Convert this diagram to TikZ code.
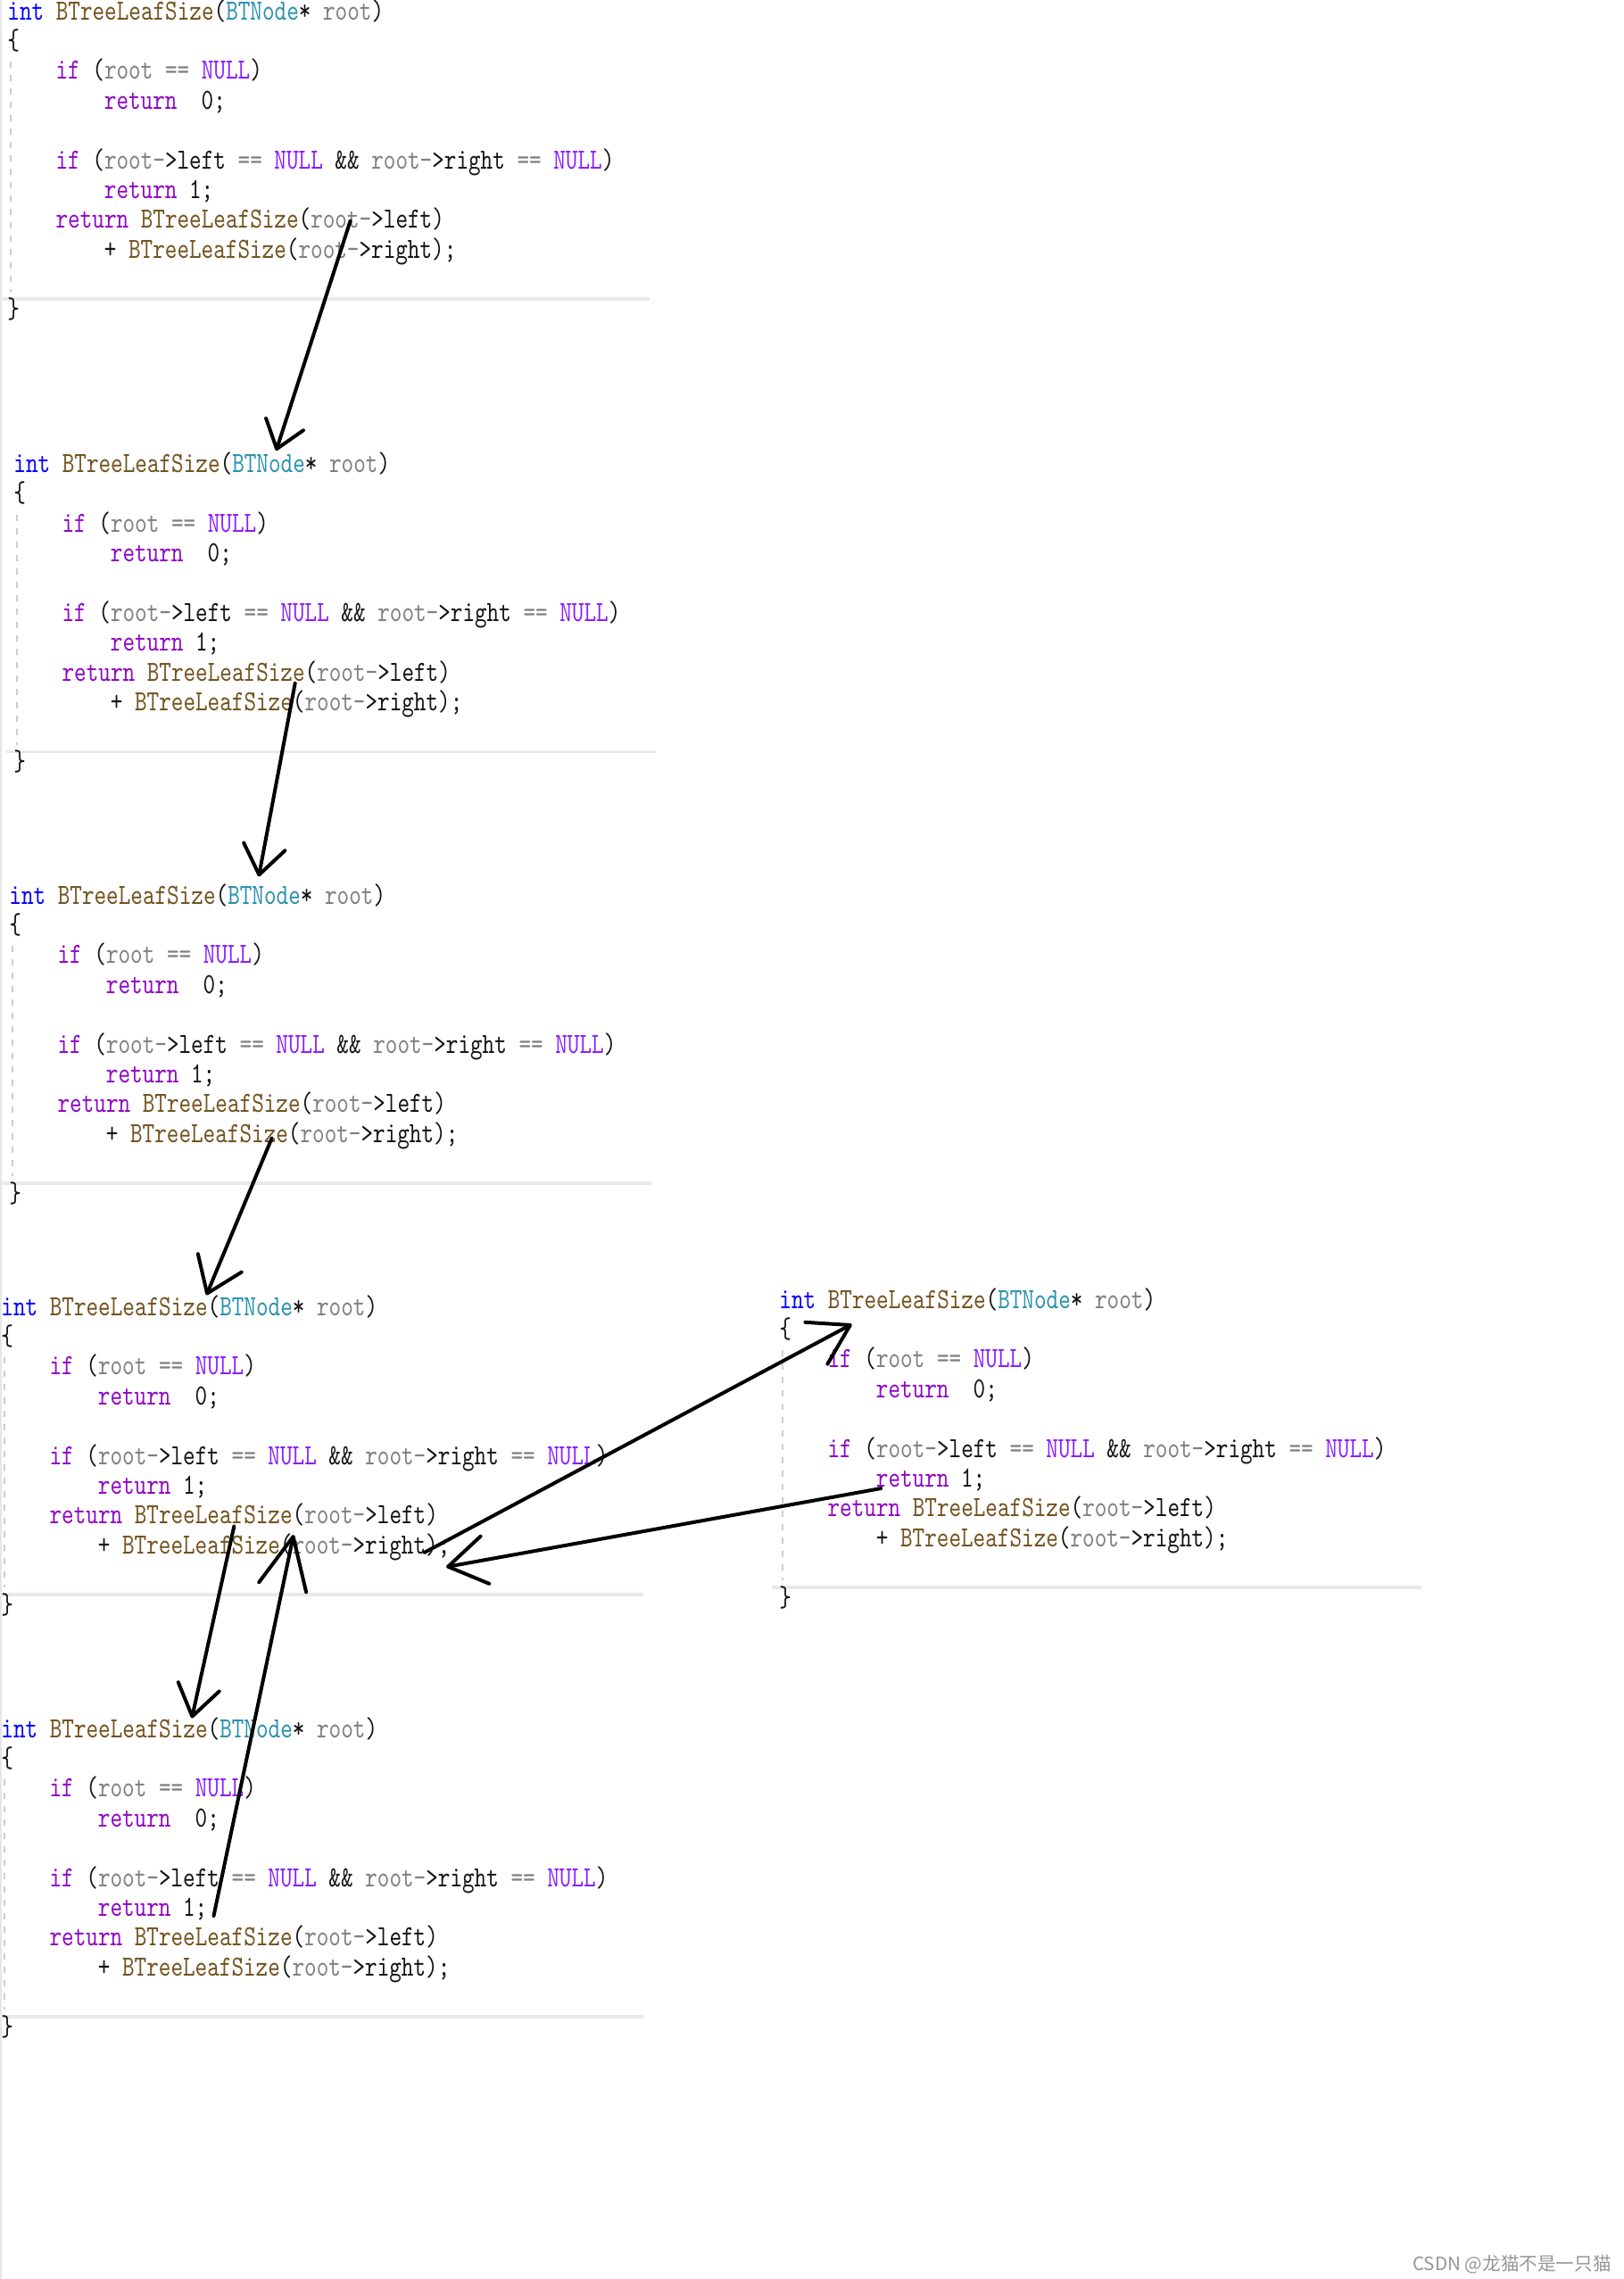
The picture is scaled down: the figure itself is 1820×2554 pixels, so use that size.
\documentclass[tikz,border=0pt]{standalone}
\usepackage{fontspec}
\usepackage{tikz}
\usetikzlibrary{arrows.meta}
\newfontfamily\codefont[FakeStretch=0.79]{lmmono10-regular.otf}
\newfontfamily\cjk{Noto Sans CJK SC}
\definecolor{kwblue}{RGB}{0,0,255}
\definecolor{fnbrown}{RGB}{116,83,31}
\definecolor{tyteal}{RGB}{43,145,175}
\definecolor{arggrey}{RGB}{128,128,128}
\definecolor{ctrlpurple}{RGB}{143,8,196}
\definecolor{nullviolet}{RGB}{138,30,255}
\definecolor{codeblack}{RGB}{20,20,20}
\definecolor{guidegrey}{RGB}{205,205,205}
\definecolor{rulegrey}{RGB}{232,232,240}
\definecolor{edgegrey}{RGB}{230,230,230}
\definecolor{markgrey}{RGB}{150,150,150}
\newcommand{\kwint}[1]{\textcolor{kwblue}{#1}}
\newcommand{\fnname}[1]{\textcolor{fnbrown}{#1}}
\newcommand{\tyname}[1]{\textcolor{tyteal}{#1}}
\newcommand{\argname}[1]{\textcolor{arggrey}{#1}}
\newcommand{\ctrlkw}[1]{\textcolor{ctrlpurple}{#1}}
\newcommand{\nullkw}[1]{\textcolor{nullviolet}{#1}}
\tikzset{
    codeline/.style={anchor=base west, inner sep=0pt, text=codeblack,
        font=\codefont\fontsize{16.4}{20}\selectfont},
    guide/.style={guidegrey, line width=1.2pt, dash pattern=on 3.5pt off 4pt},
    editorrule/.style={rulegrey, line width=1.6pt},
    edgeline/.style={edgegrey, line width=1pt},
    pen/.style={black, line width=2pt, line cap=round},
    handarrow/.style 2 args={pen, -{Straight Barb[length=#1, width=#2, round]}},
}
% one copy of the function, origin at the baseline of its first line
\newcommand{\codeblock}[3]{%
    \begin{scope}[shift={(#2,#3)}]
        \draw[editorrule] (-8,313) -- (720,313);
        \draw[guide] (4,47) -- (4,305);
        \node[codeline] (#1-sig) at (0,0) {\kwint{int} \fnname{BTreeLeafSize}(\tyname{BTNode}* \argname{root})};
        \node[codeline] (#1-open) at (0,33.4) {\{};
        \node[codeline] (#1-test0) at (54.2,66.8) {\ctrlkw{if} (\argname{root} \argname{==} \nullkw{NULL})};
        \node[codeline] (#1-ret0) at (108.5,100.2) {\ctrlkw{return}\ \ 0;};
        \node[codeline] (#1-test1) at (54.2,167) {\ctrlkw{if} (\argname{root-}>left \argname{==} \nullkw{NULL} \&\& \argname{root-}>right \argname{==} \nullkw{NULL})};
        \node[codeline] (#1-ret1) at (108.5,200.4) {\ctrlkw{return} 1;};
        \node[codeline] (#1-call) at (54.2,233.8) {\ctrlkw{return} \fnname{BTreeLeafSize}(\argname{root-}>left)};
        \node[codeline] (#1-sum) at (108.5,267.2) {+ \fnname{BTreeLeafSize}(\argname{root-}>right);};
        \node[codeline] (#1-close) at (0,334) {\}};
    \end{scope}}

\begin{document}
\begin{tikzpicture}[x=0.5pt, y=-0.5pt]
    \fill[white] (0,0) rectangle (1820,2554);
    \useasboundingbox (0,0) rectangle (1820,2554);
    \draw[edgeline] (1,0) -- (1,2554);

    % the recursion, one copy per call
    \codeblock{b1}{8}{22}
    \codeblock{b2}{15}{529.5}
    \codeblock{b3}{10}{1013}
    \codeblock{b4}{1}{1474}
    \codeblock{b5}{873}{1466}
    \codeblock{b6}{1}{1947}

    % hand drawn call arrows
    \coordinate (b1call) at (392.6,247.6);
    \coordinate (b2entry) at (309.5,505);
    \coordinate (b2call) at (330.7,765.6);
    \coordinate (b3entry) at (290,982.3);
    \coordinate (b3call) at (304.6,1275.5);
    \coordinate (b4entry) at (231.3,1451.4);
    \coordinate (b4left) at (262.3,1710.5);
    \coordinate (b6entry) at (215,1925.5);
    \coordinate (b6ret) at (239.5,2147);
    \coordinate (b4back) at (329,1720);
    \coordinate (b4right) at (475.7,1739.8);
    \coordinate (b5entry) at (954.6,1484);
    \coordinate (b5ret) at (987.2,1668);
    \coordinate (b4sum) at (500.1,1756);

    \draw[handarrow={14.5pt}{22pt}] (b1call) -- (b2entry);
    \draw[handarrow={16pt}{23.5pt}] (b2call) -- (b3entry);
    \draw[handarrow={18.5pt}{26.5pt}] (b3call) -- (b4entry);
    \draw[handarrow={17pt}{23.5pt}] (b4left) -- (b6entry);
    \draw[handarrow={29pt}{27pt}] (b6ret) -- (b4back);
    \draw[handarrow={21.5pt}{26.5pt}] (b4right) -- (b5entry);
    \draw[handarrow={21pt}{27pt}] (b5ret) -- (b4sum);

    \node[anchor=base east, inner sep=0pt, text=markgrey,
        font=\cjk\fontsize{10.3}{12}\selectfont] (mark) at (1806,2544) {CSDN @龙猫不是一只猫};
\end{tikzpicture}
\end{document}
